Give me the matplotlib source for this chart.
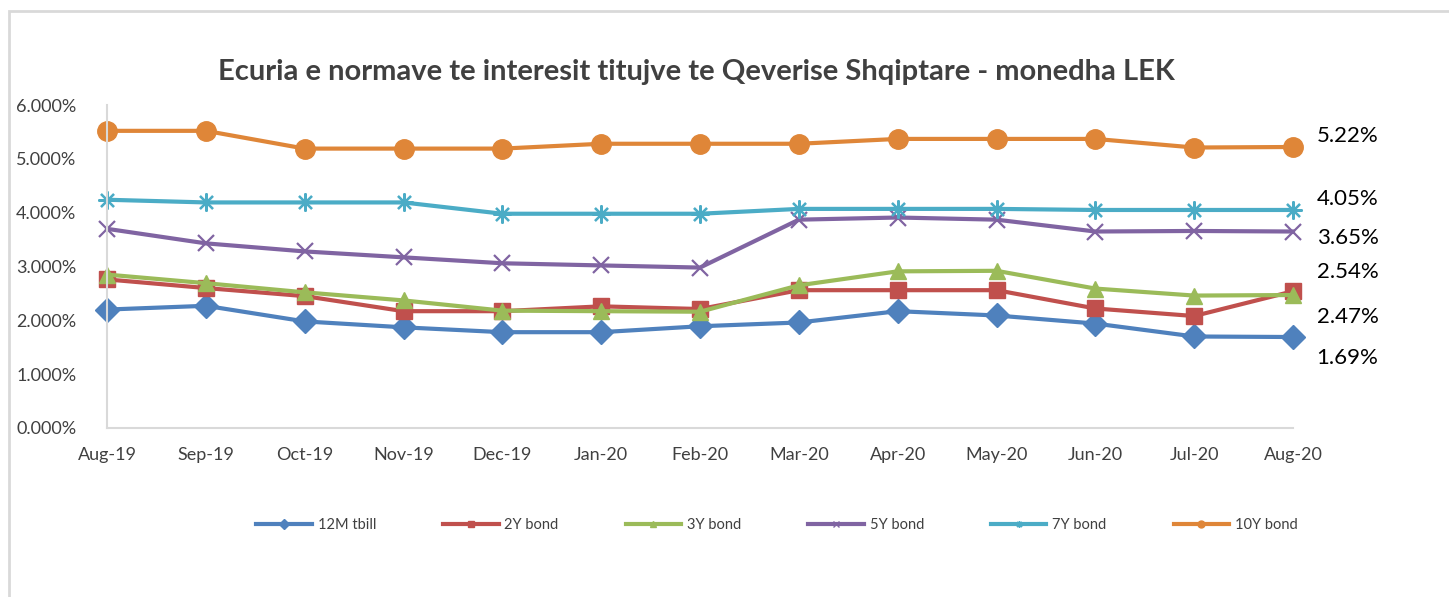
import numpy as np
import matplotlib.pyplot as plt
from matplotlib.patches import Rectangle
from matplotlib.ticker import FuncFormatter

plt.rcParams['font.family'] = ['Lato', 'DejaVu Sans']

months = ['Aug-19', 'Sep-19', 'Oct-19', 'Nov-19', 'Dec-19', 'Jan-20', 'Feb-20',
          'Mar-20', 'Apr-20', 'May-20', 'Jun-20', 'Jul-20', 'Aug-20']

# yields in percent
tbill_12m = [2.20, 2.27, 1.98, 1.87, 1.78, 1.78, 1.89, 1.96, 2.17, 2.09, 1.94, 1.70, 1.69]
bond_2y = [2.76, 2.60, 2.45, 2.17, 2.17, 2.26, 2.21, 2.56, 2.56, 2.56, 2.22, 2.08, 2.54]
bond_3y = [2.85, 2.69, 2.52, 2.37, 2.18, 2.17, 2.16, 2.65, 2.91, 2.92, 2.59, 2.46, 2.47]
bond_5y = [3.70, 3.43, 3.28, 3.17, 3.06, 3.02, 2.98, 3.87, 3.91, 3.87, 3.65, 3.66, 3.65]
bond_7y = [4.24, 4.19, 4.19, 4.19, 3.98, 3.98, 3.98, 4.07, 4.07, 4.07, 4.05, 4.05, 4.05]
bond_10y = [5.52, 5.52, 5.19, 5.19, 5.19, 5.28, 5.28, 5.28, 5.37, 5.37, 5.37, 5.21, 5.22]

series = [
    ('12M tbill', tbill_12m, '#4F81BD', 'D', 12),
    ('2Y bond', bond_2y, '#C0504D', 's', 12),
    ('3Y bond', bond_3y, '#9BBB59', '^', 12),
    ('5Y bond', bond_5y, '#8064A2', 'x', 11),
    ('7Y bond', bond_7y, '#4BACC6', (8, 2, 0), 13),
    ('10Y bond', bond_10y, '#DF8638', 'o', 14),
]

# end labels: series index, vertical offset in points
end_labels = [(5, 8), (4, 8), (3, -5), (1, 14), (2, -16), (0, -15)]

fig = plt.figure(figsize=(14.49, 5.97), dpi=100)
fig.patches.append(Rectangle((9 / 1449, -0.1), 1.2, 1 - 11 / 597 + 0.1,
                             transform=fig.transFigure, fill=False,
                             edgecolor='#D9D9D9', linewidth=2))

ax = fig.add_axes([107 / 1449, 1 - 428 / 597, (1293 - 107) / 1449, (428 - 105) / 597])
x = np.arange(len(months))

handles = []
for name, vals, color, marker, ms in series:
    mew = 1.6 if marker in ('x', (8, 2, 0)) else 1
    ax.plot(x, vals, color=color, linewidth=3, marker=marker, markersize=ms,
            markeredgewidth=mew, markeredgecolor=color, clip_on=False)
    h, = ax.plot([], [], color=color, linewidth=3, marker=marker,
                 markersize=5, markeredgewidth=1, markeredgecolor=color)
    handles.append(h)

for idx, dy in end_labels:
    v = series[idx][1][-1]
    ax.annotate(f'{v:.2f}%', xy=(x[-1], v), xytext=(17, dy), textcoords='offset points',
                ha='left', va='center', fontsize=16, color='#000000')

ax.set_xlim(0, len(months) - 1)
ax.set_ylim(0, 6)
ax.set_yticks(np.arange(0, 7, 1))
ax.yaxis.set_major_formatter(FuncFormatter(lambda v, p: f'{v:.3f}%'))
ax.set_xticks(x)
ax.set_xticklabels(months)
ax.tick_params(axis='both', length=0, labelsize=13, colors='#404040')
ax.tick_params(axis='x', pad=14)
ax.tick_params(axis='y', pad=22)
for s in ('top', 'right'):
    ax.spines[s].set_visible(False)
for s in ('left', 'bottom'):
    ax.spines[s].set_color('#D9D9D9')
    ax.spines[s].set_linewidth(1.5)

fig.text(696 / 1449, 1 - 72 / 597, 'Ecuria e normave te interesit titujve te Qeverise Shqiptare - monedha LEK',
         ha='center', va='center', fontsize=21, fontweight='bold', color='#404040')

fig.legend(handles, [s[0] for s in series], loc='center', ncol=6,
           bbox_to_anchor=(777 / 1449, 1 - 525 / 597), frameon=False,
           fontsize=10.5, handlelength=3.8, columnspacing=4.6, handletextpad=0.4,
           labelcolor='#404040')

fig.savefig('out.png', dpi=100)
